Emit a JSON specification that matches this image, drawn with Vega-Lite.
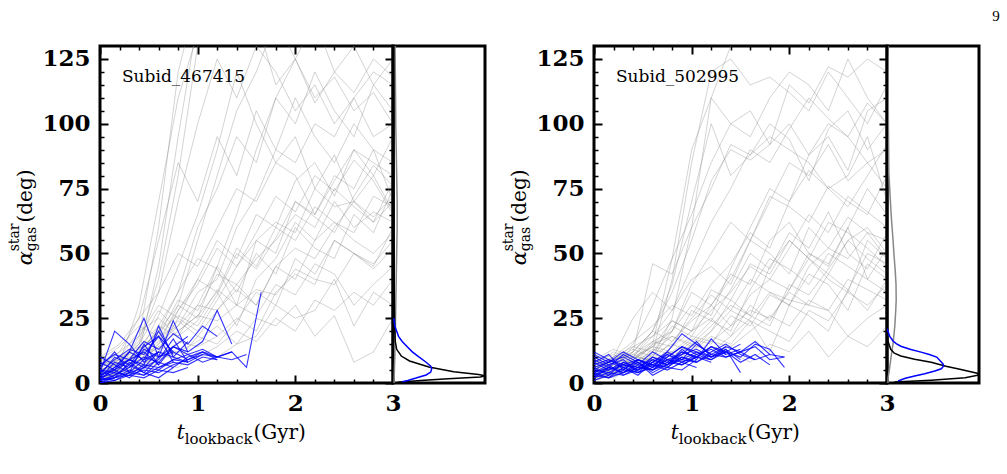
{
"$schema":"https://vega.github.io/schema/vega-lite/v6.json",
"padding":{"left":6,"top":7,"right":0,"bottom":0},
"config":{"view":{"stroke":"black","strokeWidth":3},"axis":{"domain":false,"grid":false,"tickColor":"black","labelFont":"DejaVu Serif","labelFontWeight":"bold","labelFontSize":23,"labelColor":"black","labelFlush":false,"labelOverlap":false}},
"datasets":{
"gA":[
{"k":1,"t":0,"v":3},{"k":1,"t":0.2,"v":6},{"k":1,"t":0.4,"v":12},{"k":1,"t":0.6,"v":45},{"k":1,"t":0.8,"v":95},{"k":1,"t":1,"v":140},{"k":1,"t":1.2,"v":150},{"k":1,"t":1.4,"v":145},{"k":1,"t":1.6,"v":150},{"k":1,"t":1.8,"v":140},{"k":1,"t":2,"v":125},{"k":1,"t":2.2,"v":110},{"k":1,"t":2.4,"v":118},{"k":1,"t":2.6,"v":105},{"k":1,"t":2.8,"v":112},{"k":1,"t":3,"v":100},
{"k":2,"t":0,"v":1},{"k":2,"t":0.2,"v":4},{"k":2,"t":0.4,"v":8},{"k":2,"t":0.6,"v":15},{"k":2,"t":0.8,"v":30},{"k":2,"t":1,"v":55},{"k":2,"t":1.2,"v":80},{"k":2,"t":1.4,"v":105},{"k":2,"t":1.6,"v":120},{"k":2,"t":1.8,"v":140},{"k":2,"t":2,"v":130},{"k":2,"t":2.2,"v":150},{"k":2,"t":2.4,"v":140},{"k":2,"t":2.6,"v":135},{"k":2,"t":2.8,"v":150},{"k":2,"t":3,"v":145},
{"k":3,"t":0,"v":5},{"k":3,"t":0.2,"v":8},{"k":3,"t":0.4,"v":10},{"k":3,"t":0.6,"v":18},{"k":3,"t":0.8,"v":22},{"k":3,"t":1,"v":35},{"k":3,"t":1.2,"v":40},{"k":3,"t":1.4,"v":60},{"k":3,"t":1.6,"v":72},{"k":3,"t":1.8,"v":90},{"k":3,"t":2,"v":85},{"k":3,"t":2.2,"v":100},{"k":3,"t":2.4,"v":95},{"k":3,"t":2.6,"v":110},{"k":3,"t":2.8,"v":120},{"k":3,"t":3,"v":115},
{"k":4,"t":0,"v":2},{"k":4,"t":0.2,"v":3},{"k":4,"t":0.4,"v":6},{"k":4,"t":0.6,"v":12},{"k":4,"t":0.8,"v":25},{"k":4,"t":1,"v":20},{"k":4,"t":1.2,"v":32},{"k":4,"t":1.4,"v":45},{"k":4,"t":1.6,"v":55},{"k":4,"t":1.8,"v":50},{"k":4,"t":2,"v":70},{"k":4,"t":2.2,"v":65},{"k":4,"t":2.4,"v":80},{"k":4,"t":2.6,"v":75},{"k":4,"t":2.8,"v":90},{"k":4,"t":3,"v":85},
{"k":5,"t":0,"v":4},{"k":5,"t":0.2,"v":10},{"k":5,"t":0.4,"v":14},{"k":5,"t":0.6,"v":22},{"k":5,"t":0.8,"v":35},{"k":5,"t":1,"v":48},{"k":5,"t":1.2,"v":44},{"k":5,"t":1.4,"v":30},{"k":5,"t":1.6,"v":55},{"k":5,"t":1.8,"v":62},{"k":5,"t":2,"v":58},{"k":5,"t":2.2,"v":75},{"k":5,"t":2.4,"v":68},{"k":5,"t":2.6,"v":70},{"k":5,"t":2.8,"v":64},{"k":5,"t":3,"v":72},
{"k":6,"t":0,"v":6},{"k":6,"t":0.2,"v":9},{"k":6,"t":0.4,"v":15},{"k":6,"t":0.6,"v":28},{"k":6,"t":0.8,"v":20},{"k":6,"t":1,"v":26},{"k":6,"t":1.2,"v":35},{"k":6,"t":1.4,"v":22},{"k":6,"t":1.6,"v":40},{"k":6,"t":1.8,"v":48},{"k":6,"t":2,"v":62},{"k":6,"t":2.2,"v":55},{"k":6,"t":2.4,"v":70},{"k":6,"t":2.6,"v":60},{"k":6,"t":2.8,"v":66},{"k":6,"t":3,"v":62},
{"k":7,"t":0,"v":1},{"k":7,"t":0.2,"v":5},{"k":7,"t":0.4,"v":7},{"k":7,"t":0.6,"v":10},{"k":7,"t":0.8,"v":16},{"k":7,"t":1,"v":14},{"k":7,"t":1.2,"v":18},{"k":7,"t":1.4,"v":25},{"k":7,"t":1.6,"v":20},{"k":7,"t":1.8,"v":35},{"k":7,"t":2,"v":42},{"k":7,"t":2.2,"v":38},{"k":7,"t":2.4,"v":55},{"k":7,"t":2.6,"v":50},{"k":7,"t":2.8,"v":45},{"k":7,"t":3,"v":60},
{"k":8,"t":0,"v":3},{"k":8,"t":0.2,"v":7},{"k":8,"t":0.4,"v":12},{"k":8,"t":0.6,"v":20},{"k":8,"t":0.8,"v":35},{"k":8,"t":1,"v":60},{"k":8,"t":1.2,"v":75},{"k":8,"t":1.4,"v":95},{"k":8,"t":1.6,"v":85},{"k":8,"t":1.8,"v":110},{"k":8,"t":2,"v":100},{"k":8,"t":2.2,"v":120},{"k":8,"t":2.4,"v":105},{"k":8,"t":2.6,"v":95},{"k":8,"t":2.8,"v":115},{"k":8,"t":3,"v":105},
{"k":9,"t":0,"v":8},{"k":9,"t":0.2,"v":12},{"k":9,"t":0.4,"v":18},{"k":9,"t":0.6,"v":30},{"k":9,"t":0.8,"v":25},{"k":9,"t":1,"v":40},{"k":9,"t":1.2,"v":55},{"k":9,"t":1.4,"v":48},{"k":9,"t":1.6,"v":65},{"k":9,"t":1.8,"v":60},{"k":9,"t":2,"v":78},{"k":9,"t":2.2,"v":85},{"k":9,"t":2.4,"v":72},{"k":9,"t":2.6,"v":90},{"k":9,"t":2.8,"v":80},{"k":9,"t":3,"v":95},
{"k":10,"t":0,"v":2},{"k":10,"t":0.2,"v":6},{"k":10,"t":0.4,"v":9},{"k":10,"t":0.6,"v":14},{"k":10,"t":0.8,"v":12},{"k":10,"t":1,"v":16},{"k":10,"t":1.2,"v":22},{"k":10,"t":1.4,"v":15},{"k":10,"t":1.6,"v":18},{"k":10,"t":1.8,"v":30},{"k":10,"t":2,"v":25},{"k":10,"t":2.2,"v":28},{"k":10,"t":2.4,"v":40},{"k":10,"t":2.6,"v":22},{"k":10,"t":2.8,"v":35},{"k":10,"t":3,"v":30},
{"k":11,"t":0,"v":5},{"k":11,"t":0.2,"v":4},{"k":11,"t":0.4,"v":10},{"k":11,"t":0.6,"v":16},{"k":11,"t":0.8,"v":24},{"k":11,"t":1,"v":18},{"k":11,"t":1.2,"v":28},{"k":11,"t":1.4,"v":36},{"k":11,"t":1.6,"v":30},{"k":11,"t":1.8,"v":45},{"k":11,"t":2,"v":40},{"k":11,"t":2.2,"v":55},{"k":11,"t":2.4,"v":62},{"k":11,"t":2.6,"v":58},{"k":11,"t":2.8,"v":72},{"k":11,"t":3,"v":68},
{"k":12,"t":0,"v":3},{"k":12,"t":0.2,"v":8},{"k":12,"t":0.4,"v":15},{"k":12,"t":0.6,"v":35},{"k":12,"t":0.8,"v":70},{"k":12,"t":1,"v":100},{"k":12,"t":1.2,"v":125},{"k":12,"t":1.4,"v":110},{"k":12,"t":1.6,"v":130},{"k":12,"t":1.8,"v":120},{"k":12,"t":2,"v":105},{"k":12,"t":2.2,"v":115},{"k":12,"t":2.4,"v":100},{"k":12,"t":2.6,"v":110},{"k":12,"t":2.8,"v":95},{"k":12,"t":3,"v":100},
{"k":13,"t":0,"v":7},{"k":13,"t":0.2,"v":10},{"k":13,"t":0.4,"v":20},{"k":13,"t":0.6,"v":25},{"k":13,"t":0.8,"v":18},{"k":13,"t":1,"v":30},{"k":13,"t":1.2,"v":45},{"k":13,"t":1.4,"v":35},{"k":13,"t":1.6,"v":50},{"k":13,"t":1.8,"v":42},{"k":13,"t":2,"v":60},{"k":13,"t":2.2,"v":52},{"k":13,"t":2.4,"v":48},{"k":13,"t":2.6,"v":65},{"k":13,"t":2.8,"v":58},{"k":13,"t":3,"v":75},
{"k":14,"t":0,"v":2},{"k":14,"t":0.2,"v":4},{"k":14,"t":0.4,"v":6},{"k":14,"t":0.6,"v":9},{"k":14,"t":0.8,"v":12},{"k":14,"t":1,"v":10},{"k":14,"t":1.2,"v":14},{"k":14,"t":1.4,"v":20},{"k":14,"t":1.6,"v":16},{"k":14,"t":1.8,"v":25},{"k":14,"t":2,"v":20},{"k":14,"t":2.2,"v":32},{"k":14,"t":2.4,"v":28},{"k":14,"t":2.6,"v":35},{"k":14,"t":2.8,"v":30},{"k":14,"t":3,"v":40},
{"k":15,"t":0,"v":4},{"k":15,"t":0.2,"v":9},{"k":15,"t":0.4,"v":16},{"k":15,"t":0.6,"v":40},{"k":15,"t":0.8,"v":80},{"k":15,"t":1,"v":130},{"k":15,"t":1.2,"v":150},{"k":15,"t":1.4,"v":150},{"k":15,"t":1.6,"v":140},{"k":15,"t":1.8,"v":115},{"k":15,"t":2,"v":125},{"k":15,"t":2.2,"v":108},{"k":15,"t":2.4,"v":120},{"k":15,"t":2.6,"v":112},{"k":15,"t":2.8,"v":125},{"k":15,"t":3,"v":118},
{"k":16,"t":0,"v":6},{"k":16,"t":0.2,"v":12},{"k":16,"t":0.4,"v":25},{"k":16,"t":0.6,"v":55},{"k":16,"t":0.8,"v":85},{"k":16,"t":1,"v":70},{"k":16,"t":1.2,"v":95},{"k":16,"t":1.4,"v":80},{"k":16,"t":1.6,"v":105},{"k":16,"t":1.8,"v":90},{"k":16,"t":2,"v":110},{"k":16,"t":2.2,"v":95},{"k":16,"t":2.4,"v":85},{"k":16,"t":2.6,"v":100},{"k":16,"t":2.8,"v":90},{"k":16,"t":3,"v":70},
{"k":17,"t":0,"v":3},{"k":17,"t":0.2,"v":5},{"k":17,"t":0.4,"v":14},{"k":17,"t":0.6,"v":12},{"k":17,"t":0.8,"v":28},{"k":17,"t":1,"v":40},{"k":17,"t":1.2,"v":35},{"k":17,"t":1.4,"v":52},{"k":17,"t":1.6,"v":45},{"k":17,"t":1.8,"v":60},{"k":17,"t":2,"v":55},{"k":17,"t":2.2,"v":68},{"k":17,"t":2.4,"v":62},{"k":17,"t":2.6,"v":55},{"k":17,"t":2.8,"v":50},{"k":17,"t":3,"v":58},
{"k":18,"t":0,"v":9},{"k":18,"t":0.2,"v":14},{"k":18,"t":0.4,"v":22},{"k":18,"t":0.6,"v":18},{"k":18,"t":0.8,"v":32},{"k":18,"t":1,"v":28},{"k":18,"t":1.2,"v":42},{"k":18,"t":1.4,"v":38},{"k":18,"t":1.6,"v":30},{"k":18,"t":1.8,"v":45},{"k":18,"t":2,"v":52},{"k":18,"t":2.2,"v":48},{"k":18,"t":2.4,"v":60},{"k":18,"t":2.6,"v":70},{"k":18,"t":2.8,"v":62},{"k":18,"t":3,"v":78},
{"k":19,"t":0,"v":1},{"k":19,"t":0.2,"v":3},{"k":19,"t":0.4,"v":5},{"k":19,"t":0.6,"v":8},{"k":19,"t":0.8,"v":6},{"k":19,"t":1,"v":12},{"k":19,"t":1.2,"v":10},{"k":19,"t":1.4,"v":15},{"k":19,"t":1.6,"v":25},{"k":19,"t":1.8,"v":22},{"k":19,"t":2,"v":30},{"k":19,"t":2.2,"v":18},{"k":19,"t":2.4,"v":26},{"k":19,"t":2.6,"v":8},{"k":19,"t":2.8,"v":12},{"k":19,"t":3,"v":25},
{"k":20,"t":0,"v":5},{"k":20,"t":0.2,"v":7},{"k":20,"t":0.4,"v":11},{"k":20,"t":0.6,"v":26},{"k":20,"t":0.8,"v":45},{"k":20,"t":1,"v":65},{"k":20,"t":1.2,"v":90},{"k":20,"t":1.4,"v":120},{"k":20,"t":1.6,"v":100},{"k":20,"t":1.8,"v":85},{"k":20,"t":2,"v":95},{"k":20,"t":2.2,"v":75},{"k":20,"t":2.4,"v":88},{"k":20,"t":2.6,"v":70},{"k":20,"t":2.8,"v":80},{"k":20,"t":3,"v":66},
{"k":21,"t":0,"v":2},{"k":21,"t":0.2,"v":5},{"k":21,"t":0.4,"v":18},{"k":21,"t":0.6,"v":60},{"k":21,"t":0.8,"v":120},{"k":21,"t":1,"v":150},{"k":21,"t":1.2,"v":140},{"k":21,"t":1.4,"v":130},{"k":21,"t":1.6,"v":150},{"k":21,"t":1.8,"v":145},{"k":21,"t":2,"v":135},{"k":21,"t":2.2,"v":150},{"k":21,"t":2.4,"v":140},{"k":21,"t":2.6,"v":150},{"k":21,"t":2.8,"v":130},{"k":21,"t":3,"v":150},
{"k":22,"t":0,"v":4},{"k":22,"t":0.2,"v":8},{"k":22,"t":0.4,"v":12},{"k":22,"t":0.6,"v":20},{"k":22,"t":0.8,"v":30},{"k":22,"t":1,"v":25},{"k":22,"t":1.2,"v":45},{"k":22,"t":1.4,"v":65},{"k":22,"t":1.6,"v":90},{"k":22,"t":1.8,"v":110},{"k":22,"t":2,"v":125},{"k":22,"t":2.2,"v":140},{"k":22,"t":2.4,"v":120},{"k":22,"t":2.6,"v":130},{"k":22,"t":2.8,"v":115},{"k":22,"t":3,"v":125},
{"k":23,"t":0,"v":3},{"k":23,"t":0.2,"v":6},{"k":23,"t":0.4,"v":9},{"k":23,"t":0.6,"v":15},{"k":23,"t":0.8,"v":22},{"k":23,"t":1,"v":30},{"k":23,"t":1.2,"v":28},{"k":23,"t":1.4,"v":38},{"k":23,"t":1.6,"v":48},{"k":23,"t":1.8,"v":55},{"k":23,"t":2,"v":65},{"k":23,"t":2.2,"v":60},{"k":23,"t":2.4,"v":75},{"k":23,"t":2.6,"v":68},{"k":23,"t":2.8,"v":62},{"k":23,"t":3,"v":70},
{"k":24,"t":0,"v":6},{"k":24,"t":0.2,"v":10},{"k":24,"t":0.4,"v":8},{"k":24,"t":0.6,"v":14},{"k":24,"t":0.8,"v":20},{"k":24,"t":1,"v":26},{"k":24,"t":1.2,"v":24},{"k":24,"t":1.4,"v":30},{"k":24,"t":1.6,"v":36},{"k":24,"t":1.8,"v":34},{"k":24,"t":2,"v":44},{"k":24,"t":2.2,"v":40},{"k":24,"t":2.4,"v":38},{"k":24,"t":2.6,"v":50},{"k":24,"t":2.8,"v":46},{"k":24,"t":3,"v":55},
{"k":25,"t":0,"v":10},{"k":25,"t":0.2,"v":15},{"k":25,"t":0.4,"v":25},{"k":25,"t":0.6,"v":35},{"k":25,"t":0.8,"v":50},{"k":25,"t":1,"v":45},{"k":25,"t":1.2,"v":60},{"k":25,"t":1.4,"v":75},{"k":25,"t":1.6,"v":70},{"k":25,"t":1.8,"v":85},{"k":25,"t":2,"v":80},{"k":25,"t":2.2,"v":65},{"k":25,"t":2.4,"v":78},{"k":25,"t":2.6,"v":90},{"k":25,"t":2.8,"v":85},{"k":25,"t":3,"v":80},
{"k":26,"t":0,"v":2},{"k":26,"t":0.2,"v":4},{"k":26,"t":0.4,"v":10},{"k":26,"t":0.6,"v":22},{"k":26,"t":0.8,"v":18},{"k":26,"t":1,"v":24},{"k":26,"t":1.2,"v":36},{"k":26,"t":1.4,"v":30},{"k":26,"t":1.6,"v":26},{"k":26,"t":1.8,"v":38},{"k":26,"t":2,"v":34},{"k":26,"t":2.2,"v":46},{"k":26,"t":2.4,"v":42},{"k":26,"t":2.6,"v":30},{"k":26,"t":2.8,"v":38},{"k":26,"t":3,"v":45},
{"k":27,"t":0,"v":5},{"k":27,"t":0.2,"v":8},{"k":27,"t":0.4,"v":30},{"k":27,"t":0.6,"v":70},{"k":27,"t":0.8,"v":110},{"k":27,"t":1,"v":135},{"k":27,"t":1.2,"v":150},{"k":27,"t":1.4,"v":140},{"k":27,"t":1.6,"v":150},{"k":27,"t":1.8,"v":150},{"k":27,"t":2,"v":150},{"k":27,"t":2.2,"v":150},{"k":27,"t":2.4,"v":140},{"k":27,"t":2.6,"v":150},{"k":27,"t":2.8,"v":150},{"k":27,"t":3,"v":150},
{"k":28,"t":0,"v":3},{"k":28,"t":0.2,"v":6},{"k":28,"t":0.4,"v":11},{"k":28,"t":0.6,"v":17},{"k":28,"t":0.8,"v":28},{"k":28,"t":1,"v":38},{"k":28,"t":1.2,"v":52},{"k":28,"t":1.4,"v":45},{"k":28,"t":1.6,"v":58},{"k":28,"t":1.8,"v":72},{"k":28,"t":2,"v":66},{"k":28,"t":2.2,"v":80},{"k":28,"t":2.4,"v":74},{"k":28,"t":2.6,"v":86},{"k":28,"t":2.8,"v":78},{"k":28,"t":3,"v":65},
{"k":29,"t":0,"v":7},{"k":29,"t":0.2,"v":9},{"k":29,"t":0.4,"v":13},{"k":29,"t":0.6,"v":20},{"k":29,"t":0.8,"v":26},{"k":29,"t":1,"v":22},{"k":29,"t":1.2,"v":34},{"k":29,"t":1.4,"v":50},{"k":29,"t":1.6,"v":44},{"k":29,"t":1.8,"v":56},{"k":29,"t":2,"v":70},{"k":29,"t":2.2,"v":64},{"k":29,"t":2.4,"v":58},{"k":29,"t":2.6,"v":72},{"k":29,"t":2.8,"v":84},{"k":29,"t":3,"v":76},
{"k":30,"t":0,"v":1},{"k":30,"t":0.2,"v":4},{"k":30,"t":0.4,"v":6},{"k":30,"t":0.6,"v":11},{"k":30,"t":0.8,"v":9},{"k":30,"t":1,"v":18},{"k":30,"t":1.2,"v":15},{"k":30,"t":1.4,"v":24},{"k":30,"t":1.6,"v":35},{"k":30,"t":1.8,"v":30},{"k":30,"t":2,"v":48},{"k":30,"t":2.2,"v":42},{"k":30,"t":2.4,"v":55},{"k":30,"t":2.6,"v":50},{"k":30,"t":2.8,"v":44},{"k":30,"t":3,"v":52}
],
"bA":[
{"k":1,"t":0,"v":2},{"k":1,"t":0.15,"v":5},{"k":1,"t":0.3,"v":9},{"k":1,"t":0.45,"v":6},{"k":1,"t":0.6,"v":12},
{"k":2,"t":0,"v":1},{"k":2,"t":0.15,"v":6},{"k":2,"t":0.3,"v":12},{"k":2,"t":0.45,"v":25},{"k":2,"t":0.6,"v":10},{"k":2,"t":0.75,"v":14},{"k":2,"t":0.9,"v":18},
{"k":3,"t":0,"v":4},{"k":3,"t":0.15,"v":20},{"k":3,"t":0.3,"v":15},{"k":3,"t":0.45,"v":8},{"k":3,"t":0.6,"v":12},
{"k":4,"t":0,"v":0},{"k":4,"t":0.15,"v":3},{"k":4,"t":0.3,"v":6},{"k":4,"t":0.45,"v":10},{"k":4,"t":0.6,"v":8},{"k":4,"t":0.75,"v":14},{"k":4,"t":0.9,"v":12},{"k":4,"t":1.05,"v":16},{"k":4,"t":1.2,"v":28},{"k":4,"t":1.35,"v":15},
{"k":5,"t":0,"v":5},{"k":5,"t":0.15,"v":2},{"k":5,"t":0.3,"v":8},{"k":5,"t":0.45,"v":4},{"k":5,"t":0.6,"v":10},{"k":5,"t":0.75,"v":12},{"k":5,"t":0.9,"v":9},{"k":5,"t":1.05,"v":11},
{"k":6,"t":0,"v":3},{"k":6,"t":0.15,"v":10},{"k":6,"t":0.3,"v":7},{"k":6,"t":0.45,"v":14},{"k":6,"t":0.6,"v":18},{"k":6,"t":0.75,"v":12},
{"k":7,"t":0,"v":2},{"k":7,"t":0.15,"v":4},{"k":7,"t":0.3,"v":3},{"k":7,"t":0.45,"v":7},{"k":7,"t":0.6,"v":6},{"k":7,"t":0.75,"v":9},{"k":7,"t":0.9,"v":11},{"k":7,"t":1.05,"v":8},{"k":7,"t":1.2,"v":10},{"k":7,"t":1.35,"v":12},{"k":7,"t":1.5,"v":6},{"k":7,"t":1.65,"v":35},
{"k":8,"t":0,"v":8},{"k":8,"t":0.15,"v":5},{"k":8,"t":0.3,"v":12},{"k":8,"t":0.45,"v":9},{"k":8,"t":0.6,"v":20},{"k":8,"t":0.75,"v":11},
{"k":9,"t":0,"v":1},{"k":9,"t":0.15,"v":2},{"k":9,"t":0.3,"v":5},{"k":9,"t":0.45,"v":3},{"k":9,"t":0.6,"v":8},{"k":9,"t":0.75,"v":6},{"k":9,"t":0.9,"v":10},{"k":9,"t":1.05,"v":12},{"k":9,"t":1.2,"v":9},
{"k":10,"t":0,"v":6},{"k":10,"t":0.15,"v":12},{"k":10,"t":0.3,"v":4},{"k":10,"t":0.45,"v":15},{"k":10,"t":0.6,"v":7},
{"k":11,"t":0,"v":3},{"k":11,"t":0.15,"v":6},{"k":11,"t":0.3,"v":9},{"k":11,"t":0.45,"v":7},{"k":11,"t":0.6,"v":22},{"k":11,"t":0.75,"v":10},{"k":11,"t":0.9,"v":8},
{"k":12,"t":0,"v":2},{"k":12,"t":0.15,"v":1},{"k":12,"t":0.3,"v":4},{"k":12,"t":0.45,"v":6},{"k":12,"t":0.6,"v":5},{"k":12,"t":0.75,"v":9},{"k":12,"t":0.9,"v":8},{"k":12,"t":1.05,"v":11},{"k":12,"t":1.2,"v":10},{"k":12,"t":1.35,"v":9},{"k":12,"t":1.5,"v":11},
{"k":13,"t":0,"v":10},{"k":13,"t":0.15,"v":7},{"k":13,"t":0.3,"v":4},{"k":13,"t":0.45,"v":9},{"k":13,"t":0.6,"v":12},{"k":13,"t":0.75,"v":10},{"k":13,"t":0.9,"v":16},
{"k":14,"t":0,"v":0},{"k":14,"t":0.15,"v":2},{"k":14,"t":0.3,"v":3},{"k":14,"t":0.45,"v":5},{"k":14,"t":0.6,"v":4},{"k":14,"t":0.75,"v":7},{"k":14,"t":0.9,"v":9},{"k":14,"t":1.05,"v":12},{"k":14,"t":1.2,"v":10},
{"k":15,"t":0,"v":4},{"k":15,"t":0.15,"v":9},{"k":15,"t":0.3,"v":13},{"k":15,"t":0.45,"v":11},{"k":15,"t":0.6,"v":18},{"k":15,"t":0.75,"v":8},
{"k":16,"t":0,"v":1},{"k":16,"t":0.15,"v":3},{"k":16,"t":0.3,"v":7},{"k":16,"t":0.45,"v":4},{"k":16,"t":0.6,"v":2},{"k":16,"t":0.75,"v":6},
{"k":17,"t":0,"v":2},{"k":17,"t":0.15,"v":8},{"k":17,"t":0.3,"v":6},{"k":17,"t":0.45,"v":13},{"k":17,"t":0.6,"v":10},{"k":17,"t":0.75,"v":24},{"k":17,"t":0.9,"v":12},
{"k":18,"t":0,"v":5},{"k":18,"t":0.15,"v":4},{"k":18,"t":0.3,"v":9},{"k":18,"t":0.45,"v":12},{"k":18,"t":0.6,"v":7},{"k":18,"t":0.75,"v":14},{"k":18,"t":0.9,"v":11},{"k":18,"t":1.05,"v":13},{"k":18,"t":1.2,"v":10},{"k":18,"t":1.35,"v":12},
{"k":19,"t":0,"v":3},{"k":19,"t":0.15,"v":5},{"k":19,"t":0.3,"v":2},{"k":19,"t":0.45,"v":6},{"k":19,"t":0.6,"v":9},{"k":19,"t":0.75,"v":17},{"k":19,"t":0.9,"v":8},
{"k":20,"t":0,"v":1},{"k":20,"t":0.15,"v":2},{"k":20,"t":0.3,"v":4},{"k":20,"t":0.45,"v":3},{"k":20,"t":0.6,"v":6},{"k":20,"t":0.75,"v":8},{"k":20,"t":0.9,"v":7},{"k":20,"t":1.05,"v":10},{"k":20,"t":1.2,"v":9},
{"k":21,"t":0,"v":7},{"k":21,"t":0.15,"v":11},{"k":21,"t":0.3,"v":9},{"k":21,"t":0.45,"v":16},{"k":21,"t":0.6,"v":13},{"k":21,"t":0.75,"v":19},{"k":21,"t":0.9,"v":15},{"k":21,"t":1.05,"v":22},{"k":21,"t":1.2,"v":18},
{"k":22,"t":0,"v":0},{"k":22,"t":0.15,"v":1},{"k":22,"t":0.3,"v":3},{"k":22,"t":0.45,"v":2},{"k":22,"t":0.6,"v":5},{"k":22,"t":0.75,"v":4},{"k":22,"t":0.9,"v":6}
],
"gB":[
{"k":1,"t":0,"v":3},{"k":1,"t":0.2,"v":8},{"k":1,"t":0.4,"v":15},{"k":1,"t":0.6,"v":30},{"k":1,"t":0.8,"v":48},{"k":1,"t":1,"v":65},{"k":1,"t":1.2,"v":85},{"k":1,"t":1.4,"v":100},{"k":1,"t":1.6,"v":95},{"k":1,"t":1.8,"v":110},{"k":1,"t":2,"v":120},{"k":1,"t":2.2,"v":115},{"k":1,"t":2.4,"v":105},{"k":1,"t":2.6,"v":125},{"k":1,"t":2.8,"v":110},{"k":1,"t":3,"v":100},
{"k":2,"t":0,"v":5},{"k":2,"t":0.2,"v":10},{"k":2,"t":0.4,"v":25},{"k":2,"t":0.6,"v":35},{"k":2,"t":0.8,"v":28},{"k":2,"t":1,"v":40},{"k":2,"t":1.2,"v":45},{"k":2,"t":1.4,"v":38},{"k":2,"t":1.6,"v":55},{"k":2,"t":1.8,"v":50},{"k":2,"t":2,"v":42},{"k":2,"t":2.2,"v":60},{"k":2,"t":2.4,"v":52},{"k":2,"t":2.6,"v":48},{"k":2,"t":2.8,"v":58},{"k":2,"t":3,"v":55},
{"k":3,"t":0,"v":2},{"k":3,"t":0.2,"v":6},{"k":3,"t":0.4,"v":12},{"k":3,"t":0.6,"v":20},{"k":3,"t":0.8,"v":38},{"k":3,"t":1,"v":70},{"k":3,"t":1.2,"v":100},{"k":3,"t":1.4,"v":80},{"k":3,"t":1.6,"v":88},{"k":3,"t":1.8,"v":95},{"k":3,"t":2,"v":90},{"k":3,"t":2.2,"v":85},{"k":3,"t":2.4,"v":75},{"k":3,"t":2.6,"v":80},{"k":3,"t":2.8,"v":95},{"k":3,"t":3,"v":70},
{"k":4,"t":0,"v":8},{"k":4,"t":0.2,"v":6},{"k":4,"t":0.4,"v":10},{"k":4,"t":0.6,"v":14},{"k":4,"t":0.8,"v":12},{"k":4,"t":1,"v":18},{"k":4,"t":1.2,"v":16},{"k":4,"t":1.4,"v":22},{"k":4,"t":1.6,"v":28},{"k":4,"t":1.8,"v":25},{"k":4,"t":2,"v":35},{"k":4,"t":2.2,"v":30},{"k":4,"t":2.4,"v":28},{"k":4,"t":2.6,"v":40},{"k":4,"t":2.8,"v":36},{"k":4,"t":3,"v":32},
{"k":5,"t":0,"v":4},{"k":5,"t":0.2,"v":7},{"k":5,"t":0.4,"v":12},{"k":5,"t":0.6,"v":46},{"k":5,"t":0.8,"v":42},{"k":5,"t":1,"v":60},{"k":5,"t":1.2,"v":75},{"k":5,"t":1.4,"v":92},{"k":5,"t":1.6,"v":88},{"k":5,"t":1.8,"v":100},{"k":5,"t":2,"v":94},{"k":5,"t":2.2,"v":78},{"k":5,"t":2.4,"v":98},{"k":5,"t":2.6,"v":105},{"k":5,"t":2.8,"v":90},{"k":5,"t":3,"v":100},
{"k":6,"t":0,"v":1},{"k":6,"t":0.2,"v":5},{"k":6,"t":0.4,"v":8},{"k":6,"t":0.6,"v":12},{"k":6,"t":0.8,"v":18},{"k":6,"t":1,"v":15},{"k":6,"t":1.2,"v":22},{"k":6,"t":1.4,"v":30},{"k":6,"t":1.6,"v":26},{"k":6,"t":1.8,"v":45},{"k":6,"t":2,"v":55},{"k":6,"t":2.2,"v":48},{"k":6,"t":2.4,"v":62},{"k":6,"t":2.6,"v":58},{"k":6,"t":2.8,"v":52},{"k":6,"t":3,"v":45},
{"k":7,"t":0,"v":6},{"k":7,"t":0.2,"v":9},{"k":7,"t":0.4,"v":11},{"k":7,"t":0.6,"v":8},{"k":7,"t":0.8,"v":14},{"k":7,"t":1,"v":20},{"k":7,"t":1.2,"v":25},{"k":7,"t":1.4,"v":18},{"k":7,"t":1.6,"v":30},{"k":7,"t":1.8,"v":24},{"k":7,"t":2,"v":36},{"k":7,"t":2.2,"v":48},{"k":7,"t":2.4,"v":40},{"k":7,"t":2.6,"v":35},{"k":7,"t":2.8,"v":55},{"k":7,"t":3,"v":48},
{"k":8,"t":0,"v":3},{"k":8,"t":0.2,"v":4},{"k":8,"t":0.4,"v":7},{"k":8,"t":0.6,"v":10},{"k":8,"t":0.8,"v":25},{"k":8,"t":1,"v":60},{"k":8,"t":1.2,"v":110},{"k":8,"t":1.4,"v":130},{"k":8,"t":1.6,"v":140},{"k":8,"t":1.8,"v":145},{"k":8,"t":2,"v":130},{"k":8,"t":2.2,"v":140},{"k":8,"t":2.4,"v":135},{"k":8,"t":2.6,"v":150},{"k":8,"t":2.8,"v":130},{"k":8,"t":3,"v":140},
{"k":9,"t":0,"v":7},{"k":9,"t":0.2,"v":12},{"k":9,"t":0.4,"v":9},{"k":9,"t":0.6,"v":16},{"k":9,"t":0.8,"v":20},{"k":9,"t":1,"v":35},{"k":9,"t":1.2,"v":30},{"k":9,"t":1.4,"v":42},{"k":9,"t":1.6,"v":38},{"k":9,"t":1.8,"v":55},{"k":9,"t":2,"v":62},{"k":9,"t":2.2,"v":50},{"k":9,"t":2.4,"v":45},{"k":9,"t":2.6,"v":60},{"k":9,"t":2.8,"v":75},{"k":9,"t":3,"v":65},
{"k":10,"t":0,"v":2},{"k":10,"t":0.2,"v":3},{"k":10,"t":0.4,"v":5},{"k":10,"t":0.6,"v":7},{"k":10,"t":0.8,"v":6},{"k":10,"t":1,"v":10},{"k":10,"t":1.2,"v":14},{"k":10,"t":1.4,"v":12},{"k":10,"t":1.6,"v":8},{"k":10,"t":1.8,"v":15},{"k":10,"t":2,"v":12},{"k":10,"t":2.2,"v":20},{"k":10,"t":2.4,"v":10},{"k":10,"t":2.6,"v":18},{"k":10,"t":2.8,"v":14},{"k":10,"t":3,"v":22},
{"k":11,"t":0,"v":9},{"k":11,"t":0.2,"v":6},{"k":11,"t":0.4,"v":14},{"k":11,"t":0.6,"v":18},{"k":11,"t":0.8,"v":24},{"k":11,"t":1,"v":20},{"k":11,"t":1.2,"v":28},{"k":11,"t":1.4,"v":35},{"k":11,"t":1.6,"v":45},{"k":11,"t":1.8,"v":40},{"k":11,"t":2,"v":52},{"k":11,"t":2.2,"v":65},{"k":11,"t":2.4,"v":58},{"k":11,"t":2.6,"v":72},{"k":11,"t":2.8,"v":66},{"k":11,"t":3,"v":60},
{"k":12,"t":0,"v":4},{"k":12,"t":0.2,"v":8},{"k":12,"t":0.4,"v":6},{"k":12,"t":0.6,"v":12},{"k":12,"t":0.8,"v":40},{"k":12,"t":1,"v":85},{"k":12,"t":1.2,"v":120},{"k":12,"t":1.4,"v":125},{"k":12,"t":1.6,"v":115},{"k":12,"t":1.8,"v":118},{"k":12,"t":2,"v":112},{"k":12,"t":2.2,"v":105},{"k":12,"t":2.4,"v":120},{"k":12,"t":2.6,"v":110},{"k":12,"t":2.8,"v":100},{"k":12,"t":3,"v":115},
{"k":13,"t":0,"v":5},{"k":13,"t":0.2,"v":10},{"k":13,"t":0.4,"v":16},{"k":13,"t":0.6,"v":22},{"k":13,"t":0.8,"v":30},{"k":13,"t":1,"v":26},{"k":13,"t":1.2,"v":38},{"k":13,"t":1.4,"v":46},{"k":13,"t":1.6,"v":58},{"k":13,"t":1.8,"v":52},{"k":13,"t":2,"v":70},{"k":13,"t":2.2,"v":82},{"k":13,"t":2.4,"v":75},{"k":13,"t":2.6,"v":68},{"k":13,"t":2.8,"v":80},{"k":13,"t":3,"v":92},
{"k":14,"t":0,"v":3},{"k":14,"t":0.2,"v":5},{"k":14,"t":0.4,"v":8},{"k":14,"t":0.6,"v":6},{"k":14,"t":0.8,"v":10},{"k":14,"t":1,"v":16},{"k":14,"t":1.2,"v":24},{"k":14,"t":1.4,"v":20},{"k":14,"t":1.6,"v":36},{"k":14,"t":1.8,"v":48},{"k":14,"t":2,"v":44},{"k":14,"t":2.2,"v":38},{"k":14,"t":2.4,"v":50},{"k":14,"t":2.6,"v":45},{"k":14,"t":2.8,"v":40},{"k":14,"t":3,"v":52},
{"k":15,"t":0,"v":1},{"k":15,"t":0.2,"v":4},{"k":15,"t":0.4,"v":7},{"k":15,"t":0.6,"v":13},{"k":15,"t":0.8,"v":11},{"k":15,"t":1,"v":17},{"k":15,"t":1.2,"v":15},{"k":15,"t":1.4,"v":26},{"k":15,"t":1.6,"v":22},{"k":15,"t":1.8,"v":34},{"k":15,"t":2,"v":30},{"k":15,"t":2.2,"v":42},{"k":15,"t":2.4,"v":38},{"k":15,"t":2.6,"v":28},{"k":15,"t":2.8,"v":46},{"k":15,"t":3,"v":40},
{"k":16,"t":0,"v":6},{"k":16,"t":0.2,"v":9},{"k":16,"t":0.4,"v":12},{"k":16,"t":0.6,"v":20},{"k":16,"t":0.8,"v":35},{"k":16,"t":1,"v":55},{"k":16,"t":1.2,"v":78},{"k":16,"t":1.4,"v":90},{"k":16,"t":1.6,"v":86},{"k":16,"t":1.8,"v":92},{"k":16,"t":2,"v":100},{"k":16,"t":2.2,"v":88},{"k":16,"t":2.4,"v":95},{"k":16,"t":2.6,"v":82},{"k":16,"t":2.8,"v":105},{"k":16,"t":3,"v":110},
{"k":17,"t":0,"v":2},{"k":17,"t":0.2,"v":7},{"k":17,"t":0.4,"v":10},{"k":17,"t":0.6,"v":9},{"k":17,"t":0.8,"v":16},{"k":17,"t":1,"v":25},{"k":17,"t":1.2,"v":34},{"k":17,"t":1.4,"v":28},{"k":17,"t":1.6,"v":40},{"k":17,"t":1.8,"v":35},{"k":17,"t":2,"v":30},{"k":17,"t":2.2,"v":45},{"k":17,"t":2.4,"v":52},{"k":17,"t":2.6,"v":64},{"k":17,"t":2.8,"v":58},{"k":17,"t":3,"v":48},
{"k":18,"t":0,"v":8},{"k":18,"t":0.2,"v":11},{"k":18,"t":0.4,"v":7},{"k":18,"t":0.6,"v":15},{"k":18,"t":0.8,"v":18},{"k":18,"t":1,"v":14},{"k":18,"t":1.2,"v":20},{"k":18,"t":1.4,"v":32},{"k":18,"t":1.6,"v":26},{"k":18,"t":1.8,"v":22},{"k":18,"t":2,"v":38},{"k":18,"t":2.2,"v":34},{"k":18,"t":2.4,"v":44},{"k":18,"t":2.6,"v":55},{"k":18,"t":2.8,"v":48},{"k":18,"t":3,"v":42},
{"k":19,"t":0,"v":4},{"k":19,"t":0.2,"v":6},{"k":19,"t":0.4,"v":9},{"k":19,"t":0.6,"v":15},{"k":19,"t":0.8,"v":48},{"k":19,"t":1,"v":90},{"k":19,"t":1.2,"v":110},{"k":19,"t":1.4,"v":100},{"k":19,"t":1.6,"v":105},{"k":19,"t":1.8,"v":92},{"k":19,"t":2,"v":115},{"k":19,"t":2.2,"v":108},{"k":19,"t":2.4,"v":122},{"k":19,"t":2.6,"v":118},{"k":19,"t":2.8,"v":125},{"k":19,"t":3,"v":120},
{"k":20,"t":0,"v":3},{"k":20,"t":0.2,"v":2},{"k":20,"t":0.4,"v":6},{"k":20,"t":0.6,"v":10},{"k":20,"t":0.8,"v":8},{"k":20,"t":1,"v":12},{"k":20,"t":1.2,"v":18},{"k":20,"t":1.4,"v":15},{"k":20,"t":1.6,"v":24},{"k":20,"t":1.8,"v":20},{"k":20,"t":2,"v":16},{"k":20,"t":2.2,"v":28},{"k":20,"t":2.4,"v":24},{"k":20,"t":2.6,"v":35},{"k":20,"t":2.8,"v":30},{"k":20,"t":3,"v":38},
{"k":21,"t":0,"v":7},{"k":21,"t":0.2,"v":10},{"k":21,"t":0.4,"v":14},{"k":21,"t":0.6,"v":12},{"k":21,"t":0.8,"v":22},{"k":21,"t":1,"v":18},{"k":21,"t":1.2,"v":30},{"k":21,"t":1.4,"v":40},{"k":21,"t":1.6,"v":55},{"k":21,"t":1.8,"v":70},{"k":21,"t":2,"v":85},{"k":21,"t":2.2,"v":80},{"k":21,"t":2.4,"v":92},{"k":21,"t":2.6,"v":78},{"k":21,"t":2.8,"v":85},{"k":21,"t":3,"v":75},
{"k":22,"t":0,"v":5},{"k":22,"t":0.2,"v":8},{"k":22,"t":0.4,"v":11},{"k":22,"t":0.6,"v":16},{"k":22,"t":0.8,"v":14},{"k":22,"t":1,"v":28},{"k":22,"t":1.2,"v":24},{"k":22,"t":1.4,"v":36},{"k":22,"t":1.6,"v":50},{"k":22,"t":1.8,"v":44},{"k":22,"t":2,"v":58},{"k":22,"t":2.2,"v":52},{"k":22,"t":2.4,"v":66},{"k":22,"t":2.6,"v":50},{"k":22,"t":2.8,"v":44},{"k":22,"t":3,"v":58},
{"k":23,"t":0,"v":1},{"k":23,"t":0.2,"v":3},{"k":23,"t":0.4,"v":6},{"k":23,"t":0.6,"v":9},{"k":23,"t":0.8,"v":12},{"k":23,"t":1,"v":10},{"k":23,"t":1.2,"v":16},{"k":23,"t":1.4,"v":14},{"k":23,"t":1.6,"v":20},{"k":23,"t":1.8,"v":26},{"k":23,"t":2,"v":22},{"k":23,"t":2.2,"v":32},{"k":23,"t":2.4,"v":28},{"k":23,"t":2.6,"v":18},{"k":23,"t":2.8,"v":25},{"k":23,"t":3,"v":30},
{"k":24,"t":0,"v":6},{"k":24,"t":0.2,"v":4},{"k":24,"t":0.4,"v":9},{"k":24,"t":0.6,"v":14},{"k":24,"t":0.8,"v":20},{"k":24,"t":1,"v":38},{"k":24,"t":1.2,"v":50},{"k":24,"t":1.4,"v":62},{"k":24,"t":1.6,"v":55},{"k":24,"t":1.8,"v":72},{"k":24,"t":2,"v":68},{"k":24,"t":2.2,"v":62},{"k":24,"t":2.4,"v":76},{"k":24,"t":2.6,"v":70},{"k":24,"t":2.8,"v":65},{"k":24,"t":3,"v":80},
{"k":25,"t":0,"v":2},{"k":25,"t":0.2,"v":5},{"k":25,"t":0.4,"v":10},{"k":25,"t":0.6,"v":18},{"k":25,"t":0.8,"v":28},{"k":25,"t":1,"v":45},{"k":25,"t":1.2,"v":62},{"k":25,"t":1.4,"v":75},{"k":25,"t":1.6,"v":90},{"k":25,"t":1.8,"v":85},{"k":25,"t":2,"v":98},{"k":25,"t":2.2,"v":110},{"k":25,"t":2.4,"v":102},{"k":25,"t":2.6,"v":95},{"k":25,"t":2.8,"v":108},{"k":25,"t":3,"v":100},
{"k":26,"t":0,"v":9},{"k":26,"t":0.2,"v":13},{"k":26,"t":0.4,"v":10},{"k":26,"t":0.6,"v":20},{"k":26,"t":0.8,"v":16},{"k":26,"t":1,"v":24},{"k":26,"t":1.2,"v":30},{"k":26,"t":1.4,"v":22},{"k":26,"t":1.6,"v":34},{"k":26,"t":1.8,"v":40},{"k":26,"t":2,"v":36},{"k":26,"t":2.2,"v":50},{"k":26,"t":2.4,"v":46},{"k":26,"t":2.6,"v":60},{"k":26,"t":2.8,"v":40},{"k":26,"t":3,"v":35},
{"k":27,"t":0,"v":4},{"k":27,"t":0.2,"v":7},{"k":27,"t":0.4,"v":5},{"k":27,"t":0.6,"v":11},{"k":27,"t":0.8,"v":15},{"k":27,"t":1,"v":12},{"k":27,"t":1.2,"v":20},{"k":27,"t":1.4,"v":28},{"k":27,"t":1.6,"v":24},{"k":27,"t":1.8,"v":12},{"k":27,"t":2,"v":30},{"k":27,"t":2.2,"v":26},{"k":27,"t":2.4,"v":20},{"k":27,"t":2.6,"v":36},{"k":27,"t":2.8,"v":28},{"k":27,"t":3,"v":40},
{"k":28,"t":0,"v":3},{"k":28,"t":0.2,"v":6},{"k":28,"t":0.4,"v":9},{"k":28,"t":0.6,"v":14},{"k":28,"t":0.8,"v":24},{"k":28,"t":1,"v":20},{"k":28,"t":1.2,"v":36},{"k":28,"t":1.4,"v":32},{"k":28,"t":1.6,"v":46},{"k":28,"t":1.8,"v":42},{"k":28,"t":2,"v":55},{"k":28,"t":2.2,"v":48},{"k":28,"t":2.4,"v":42},{"k":28,"t":2.6,"v":55},{"k":28,"t":2.8,"v":60},{"k":28,"t":3,"v":50},
{"k":29,"t":0,"v":5},{"k":29,"t":0.2,"v":9},{"k":29,"t":0.4,"v":13},{"k":29,"t":0.6,"v":10},{"k":29,"t":0.8,"v":20},{"k":29,"t":1,"v":30},{"k":29,"t":1.2,"v":26},{"k":29,"t":1.4,"v":44},{"k":29,"t":1.6,"v":60},{"k":29,"t":1.8,"v":75},{"k":29,"t":2,"v":70},{"k":29,"t":2.2,"v":88},{"k":29,"t":2.4,"v":100},{"k":29,"t":2.6,"v":95},{"k":29,"t":2.8,"v":85},{"k":29,"t":3,"v":90},
{"k":30,"t":0,"v":2},{"k":30,"t":0.2,"v":4},{"k":30,"t":0.4,"v":8},{"k":30,"t":0.6,"v":11},{"k":30,"t":0.8,"v":9},{"k":30,"t":1,"v":15},{"k":30,"t":1.2,"v":12},{"k":30,"t":1.4,"v":18},{"k":30,"t":1.6,"v":25},{"k":30,"t":1.8,"v":35},{"k":30,"t":2,"v":32},{"k":30,"t":2.2,"v":30},{"k":30,"t":2.4,"v":42},{"k":30,"t":2.6,"v":36},{"k":30,"t":2.8,"v":50},{"k":30,"t":3,"v":46}
],
"bB":[
{"k":1,"t":0,"v":5},{"k":1,"t":0.15,"v":8},{"k":1,"t":0.3,"v":6},{"k":1,"t":0.45,"v":4},{"k":1,"t":0.6,"v":9},{"k":1,"t":0.75,"v":7},{"k":1,"t":0.9,"v":12},{"k":1,"t":1.05,"v":10},{"k":1,"t":1.2,"v":14},{"k":1,"t":1.35,"v":11},
{"k":2,"t":0,"v":12},{"k":2,"t":0.15,"v":9},{"k":2,"t":0.3,"v":7},{"k":2,"t":0.45,"v":5},{"k":2,"t":0.6,"v":8},{"k":2,"t":0.75,"v":6},{"k":2,"t":0.9,"v":10},
{"k":3,"t":0,"v":3},{"k":3,"t":0.15,"v":6},{"k":3,"t":0.3,"v":4},{"k":3,"t":0.45,"v":7},{"k":3,"t":0.6,"v":5},{"k":3,"t":0.75,"v":9},{"k":3,"t":0.9,"v":8},{"k":3,"t":1.05,"v":11},{"k":3,"t":1.2,"v":13},{"k":3,"t":1.35,"v":10},{"k":3,"t":1.5,"v":12},{"k":3,"t":1.65,"v":14},{"k":3,"t":1.8,"v":9},{"k":3,"t":1.95,"v":10},
{"k":4,"t":0,"v":8},{"k":4,"t":0.15,"v":11},{"k":4,"t":0.3,"v":5},{"k":4,"t":0.45,"v":9},{"k":4,"t":0.6,"v":6},{"k":4,"t":0.75,"v":12},{"k":4,"t":0.9,"v":19},{"k":4,"t":1.05,"v":15},{"k":4,"t":1.2,"v":11},
{"k":5,"t":0,"v":2},{"k":5,"t":0.15,"v":4},{"k":5,"t":0.3,"v":3},{"k":5,"t":0.45,"v":6},{"k":5,"t":0.6,"v":5},{"k":5,"t":0.75,"v":8},{"k":5,"t":0.9,"v":7},{"k":5,"t":1.05,"v":10},{"k":5,"t":1.2,"v":9},{"k":5,"t":1.35,"v":12},{"k":5,"t":1.5,"v":10},{"k":5,"t":1.65,"v":15},{"k":5,"t":1.8,"v":13},{"k":5,"t":1.95,"v":6},
{"k":6,"t":0,"v":6},{"k":6,"t":0.15,"v":3},{"k":6,"t":0.3,"v":8},{"k":6,"t":0.45,"v":5},{"k":6,"t":0.6,"v":10},{"k":6,"t":0.75,"v":7},{"k":6,"t":0.9,"v":13},{"k":6,"t":1.05,"v":9},{"k":6,"t":1.2,"v":17},{"k":6,"t":1.35,"v":11},{"k":6,"t":1.5,"v":13},
{"k":7,"t":0,"v":10},{"k":7,"t":0.15,"v":7},{"k":7,"t":0.3,"v":9},{"k":7,"t":0.45,"v":4},{"k":7,"t":0.6,"v":7},{"k":7,"t":0.75,"v":5},{"k":7,"t":0.9,"v":8},{"k":7,"t":1.05,"v":6},
{"k":8,"t":0,"v":4},{"k":8,"t":0.15,"v":2},{"k":8,"t":0.3,"v":6},{"k":8,"t":0.45,"v":3},{"k":8,"t":0.6,"v":8},{"k":8,"t":0.75,"v":11},{"k":8,"t":0.9,"v":9},{"k":8,"t":1.05,"v":12},{"k":8,"t":1.2,"v":10},{"k":8,"t":1.35,"v":14},{"k":8,"t":1.5,"v":12},{"k":8,"t":1.65,"v":16},{"k":8,"t":1.8,"v":11},
{"k":9,"t":0,"v":7},{"k":9,"t":0.15,"v":9},{"k":9,"t":0.3,"v":6},{"k":9,"t":0.45,"v":8},{"k":9,"t":0.6,"v":5},{"k":9,"t":0.75,"v":10},{"k":9,"t":0.9,"v":14},{"k":9,"t":1.05,"v":12},{"k":9,"t":1.2,"v":9},{"k":9,"t":1.35,"v":13},{"k":9,"t":1.5,"v":4},
{"k":10,"t":0,"v":1},{"k":10,"t":0.15,"v":3},{"k":10,"t":0.3,"v":5},{"k":10,"t":0.45,"v":4},{"k":10,"t":0.6,"v":6},{"k":10,"t":0.75,"v":9},{"k":10,"t":0.9,"v":7},{"k":10,"t":1.05,"v":10},{"k":10,"t":1.2,"v":8},
{"k":11,"t":0,"v":9},{"k":11,"t":0.15,"v":6},{"k":11,"t":0.3,"v":11},{"k":11,"t":0.45,"v":8},{"k":11,"t":0.6,"v":4},{"k":11,"t":0.75,"v":7},{"k":11,"t":0.9,"v":10},{"k":11,"t":1.05,"v":8},{"k":11,"t":1.2,"v":12},{"k":11,"t":1.35,"v":15},{"k":11,"t":1.5,"v":11},{"k":11,"t":1.65,"v":9},
{"k":12,"t":0,"v":3},{"k":12,"t":0.15,"v":5},{"k":12,"t":0.3,"v":8},{"k":12,"t":0.45,"v":6},{"k":12,"t":0.6,"v":9},{"k":12,"t":0.75,"v":7},{"k":12,"t":0.9,"v":11},{"k":12,"t":1.05,"v":16},{"k":12,"t":1.2,"v":10},{"k":12,"t":1.35,"v":13},{"k":12,"t":1.5,"v":9},
{"k":13,"t":0,"v":5},{"k":13,"t":0.15,"v":4},{"k":13,"t":0.3,"v":7},{"k":13,"t":0.45,"v":6},{"k":13,"t":0.6,"v":10},{"k":13,"t":0.75,"v":8},{"k":13,"t":0.9,"v":12},{"k":13,"t":1.05,"v":10},{"k":13,"t":1.2,"v":14},{"k":13,"t":1.35,"v":12},{"k":13,"t":1.5,"v":15},
{"k":14,"t":0,"v":2},{"k":14,"t":0.15,"v":6},{"k":14,"t":0.3,"v":4},{"k":14,"t":0.45,"v":8},{"k":14,"t":0.6,"v":3},{"k":14,"t":0.75,"v":6},{"k":14,"t":0.9,"v":5},{"k":14,"t":1.05,"v":9},
{"k":15,"t":0,"v":6},{"k":15,"t":0.15,"v":8},{"k":15,"t":0.3,"v":10},{"k":15,"t":0.45,"v":7},{"k":15,"t":0.6,"v":12},{"k":15,"t":0.75,"v":9},{"k":15,"t":0.9,"v":11},{"k":15,"t":1.05,"v":13},{"k":15,"t":1.2,"v":10},{"k":15,"t":1.35,"v":12},{"k":15,"t":1.5,"v":8},{"k":15,"t":1.65,"v":11},{"k":15,"t":1.8,"v":7},
{"k":16,"t":0,"v":4},{"k":16,"t":0.15,"v":7},{"k":16,"t":0.3,"v":3},{"k":16,"t":0.45,"v":5},{"k":16,"t":0.6,"v":8},{"k":16,"t":0.75,"v":12},{"k":16,"t":0.9,"v":9},{"k":16,"t":1.05,"v":15},{"k":16,"t":1.2,"v":11},{"k":16,"t":1.35,"v":14},
{"k":17,"t":0,"v":8},{"k":17,"t":0.15,"v":5},{"k":17,"t":0.3,"v":7},{"k":17,"t":0.45,"v":9},{"k":17,"t":0.6,"v":6},{"k":17,"t":0.75,"v":11},{"k":17,"t":0.9,"v":8},{"k":17,"t":1.05,"v":10},
{"k":18,"t":0,"v":3},{"k":18,"t":0.15,"v":2},{"k":18,"t":0.3,"v":4},{"k":18,"t":0.45,"v":6},{"k":18,"t":0.6,"v":5},{"k":18,"t":0.75,"v":7},{"k":18,"t":0.9,"v":9},{"k":18,"t":1.05,"v":8},{"k":18,"t":1.2,"v":11},{"k":18,"t":1.35,"v":10},{"k":18,"t":1.5,"v":12},{"k":18,"t":1.65,"v":9},{"k":18,"t":1.8,"v":11},{"k":18,"t":1.95,"v":10},
{"k":19,"t":0,"v":11},{"k":19,"t":0.15,"v":8},{"k":19,"t":0.3,"v":12},{"k":19,"t":0.45,"v":9},{"k":19,"t":0.6,"v":7},{"k":19,"t":0.75,"v":10},{"k":19,"t":0.9,"v":14},{"k":19,"t":1.05,"v":11},{"k":19,"t":1.2,"v":9},
{"k":20,"t":0,"v":4},{"k":20,"t":0.15,"v":6},{"k":20,"t":0.3,"v":5},{"k":20,"t":0.45,"v":9},{"k":20,"t":0.6,"v":7},{"k":20,"t":0.75,"v":6},{"k":20,"t":0.9,"v":10},{"k":20,"t":1.05,"v":8}
],
"dA":[
{"c":"grey","v":0,"d":0.012},{"c":"grey","v":5,"d":0.015},{"c":"grey","v":10,"d":0.02},{"c":"grey","v":20,"d":0.025},{"c":"grey","v":30,"d":0.03},{"c":"grey","v":40,"d":0.035},{"c":"grey","v":50,"d":0.04},{"c":"grey","v":60,"d":0.045},{"c":"grey","v":70,"d":0.045},{"c":"grey","v":80,"d":0.04},{"c":"grey","v":90,"d":0.035},{"c":"grey","v":100,"d":0.03},{"c":"grey","v":110,"d":0.028},{"c":"grey","v":120,"d":0.025},{"c":"grey","v":130,"d":0.022},
{"c":"black","v":0.3,"d":0.05},{"c":"black","v":1,"d":0.3},{"c":"black","v":1.6,"d":0.6},{"c":"black","v":2.3,"d":0.95},{"c":"black","v":2.8,"d":1},{"c":"black","v":3.3,"d":0.93},{"c":"black","v":4.3,"d":0.66},{"c":"black","v":6.2,"d":0.39},{"c":"black","v":8.5,"d":0.18},{"c":"black","v":10.4,"d":0.09},{"c":"black","v":13,"d":0.04},{"c":"black","v":16,"d":0.025},{"c":"black","v":20,"d":0.02},{"c":"black","v":30,"d":0.015},{"c":"black","v":50,"d":0.012},{"c":"black","v":80,"d":0.01},{"c":"black","v":130,"d":0.008},
{"c":"blue","v":0.5,"d":0.1},{"c":"blue","v":1,"d":0.16},{"c":"blue","v":1.9,"d":0.25},{"c":"blue","v":3.1,"d":0.36},{"c":"blue","v":4.2,"d":0.41},{"c":"blue","v":5.4,"d":0.42},{"c":"blue","v":6.5,"d":0.41},{"c":"blue","v":8,"d":0.36},{"c":"blue","v":10.4,"d":0.27},{"c":"blue","v":12,"d":0.21},{"c":"blue","v":13.8,"d":0.16},{"c":"blue","v":16,"d":0.1},{"c":"blue","v":18,"d":0.06},{"c":"blue","v":20,"d":0.04},{"c":"blue","v":22,"d":0.02},{"c":"blue","v":25,"d":0.008}
],
"dB":[
{"c":"grey","v":0,"d":0.01},{"c":"grey","v":2,"d":0.012},{"c":"grey","v":5,"d":0.025},{"c":"grey","v":10,"d":0.044},{"c":"grey","v":15,"d":0.065},{"c":"grey","v":22,"d":0.085},{"c":"grey","v":28,"d":0.095},{"c":"grey","v":32,"d":0.1},{"c":"grey","v":38,"d":0.098},{"c":"grey","v":43,"d":0.09},{"c":"grey","v":50,"d":0.075},{"c":"grey","v":55,"d":0.066},{"c":"grey","v":65,"d":0.045},{"c":"grey","v":81,"d":0.02},{"c":"grey","v":100,"d":0.015},{"c":"grey","v":130,"d":0.01},
{"c":"black","v":0.4,"d":0.08},{"c":"black","v":1.1,"d":0.48},{"c":"black","v":2,"d":0.85},{"c":"black","v":3.1,"d":1},{"c":"black","v":3.8,"d":0.98},{"c":"black","v":5.4,"d":0.78},{"c":"black","v":6.5,"d":0.64},{"c":"black","v":8,"d":0.48},{"c":"black","v":9.2,"d":0.3},{"c":"black","v":10.4,"d":0.15},{"c":"black","v":11.5,"d":0.08},{"c":"black","v":13,"d":0.04},{"c":"black","v":16.2,"d":0.01},{"c":"black","v":20,"d":0.005},{"c":"black","v":130,"d":0.003},
{"c":"blue","v":0.8,"d":0.12},{"c":"blue","v":1.8,"d":0.2},{"c":"blue","v":2.7,"d":0.3},{"c":"blue","v":3.6,"d":0.41},{"c":"blue","v":4.6,"d":0.52},{"c":"blue","v":5.5,"d":0.59},{"c":"blue","v":6.5,"d":0.615},{"c":"blue","v":7.3,"d":0.61},{"c":"blue","v":8.5,"d":0.58},{"c":"blue","v":10,"d":0.54},{"c":"blue","v":11,"d":0.46},{"c":"blue","v":11.9,"d":0.37},{"c":"blue","v":13,"d":0.25},{"c":"blue","v":14.2,"d":0.15},{"c":"blue","v":15.2,"d":0.1},{"c":"blue","v":16.2,"d":0.066},{"c":"blue","v":18,"d":0.03},{"c":"blue","v":20,"d":0.01},{"c":"blue","v":21,"d":0.003}
]
},
"spacing":0,
"bounds":"flush",
"hconcat":[
{"width":293,"height":337,
"layer":[
{"data":{"name":"gA"},"mark":{"type":"line","clip":true,"stroke":"#808080","strokeWidth":1,"opacity":0.35},
"encoding":{"x":{"field":"t","type":"quantitative","scale":{"domain":[0,3],"nice":false,"zero":false},"axis":{"orient":"bottom","title":null,"values":[0,0.2,0.4,0.6,0.8,1,1.2,1.4,1.6,1.8,2,2.2,2.4,2.6,2.8,3],"labelExpr":"datum.value % 1 === 0 ? '' + round(datum.value) : ''","tickSize":{"condition":{"test":"datum.value % 1 === 0","value":-8},"value":-4},"tickWidth":{"condition":{"test":"datum.value % 1 === 0","value":2},"value":1.5},"labelPadding":17,"labelOverlap":false}},
"y":{"field":"v","type":"quantitative","scale":{"domain":[0,130],"nice":false,"zero":false},"axis":{"orient":"left","title":null,"values":[0,5,10,15,20,25,30,35,40,45,50,55,60,65,70,75,80,85,90,95,100,105,110,115,120,125],"labelExpr":"datum.value % 25 === 0 ? datum.label : ''","tickSize":{"condition":{"test":"datum.value % 25 === 0","value":-8},"value":-4},"tickWidth":{"condition":{"test":"datum.value % 25 === 0","value":2},"value":1.5},"labelPadding":18}},
"detail":{"field":"k","type":"nominal"}}},
{"data":{"name":"bA"},"mark":{"type":"line","clip":true,"stroke":"#0000ff","strokeWidth":1.1,"opacity":0.8},
"encoding":{"x":{"field":"t","type":"quantitative","axis":{"orient":"top","title":null,"labels":false,"values":[0,0.2,0.4,0.6,0.8,1,1.2,1.4,1.6,1.8,2,2.2,2.4,2.6,2.8,3],"tickSize":{"condition":{"test":"datum.value % 1 === 0","value":-8},"value":-4},"tickWidth":{"condition":{"test":"datum.value % 1 === 0","value":2},"value":1.5}}},
"y":{"field":"v","type":"quantitative","axis":{"orient":"right","title":null,"labels":false,"values":[0,5,10,15,20,25,30,35,40,45,50,55,60,65,70,75,80,85,90,95,100,105,110,115,120,125],"tickSize":{"condition":{"test":"datum.value % 25 === 0","value":-8},"value":-4},"tickWidth":{"condition":{"test":"datum.value % 25 === 0","value":2},"value":1.5}}},
"detail":{"field":"k","type":"nominal"}}},
{"data":{"values":[{}]},"mark":{"type":"text","text":"Subid_467415","align":"left","baseline":"alphabetic","font":"DejaVu Serif","fontSize":17,"color":"black"},"encoding":{"x":{"datum":0.225,"type":"quantitative","axis":null},"y":{"datum":116,"type":"quantitative","axis":null}}},
{"data":{"values":[{}]},"mark":{"type":"text","text":"α","angle":270,"align":"left","baseline":"alphabetic","font":"DejaVu Serif","fontStyle":"italic","fontSize":21,"color":"black"},"encoding":{"x":{"datum":-0.694,"type":"quantitative","axis":null},"y":{"datum":45.4,"type":"quantitative","axis":null}}},
{"data":{"values":[{}]},"mark":{"type":"text","text":"star","angle":270,"align":"left","baseline":"alphabetic","font":"DejaVu Serif","fontSize":14,"color":"black"},"encoding":{"x":{"datum":-0.827,"type":"quantitative","axis":null},"y":{"datum":50.8,"type":"quantitative","axis":null}}},
{"data":{"values":[{}]},"mark":{"type":"text","text":"gas","angle":270,"align":"left","baseline":"alphabetic","font":"DejaVu Serif","fontSize":14,"color":"black"},"encoding":{"x":{"datum":-0.653,"type":"quantitative","axis":null},"y":{"datum":50.8,"type":"quantitative","axis":null}}},
{"data":{"values":[{}]},"mark":{"type":"text","text":"(deg)","angle":270,"align":"left","baseline":"alphabetic","font":"DejaVu Serif","fontSize":20,"color":"black"},"encoding":{"x":{"datum":-0.694,"type":"quantitative","axis":null},"y":{"datum":61.9,"type":"quantitative","axis":null}}},
{"data":{"values":[{}]},"mark":{"type":"text","text":"t","align":"left","baseline":"alphabetic","font":"DejaVu Serif","fontStyle":"italic","fontSize":20,"color":"black"},"encoding":{"x":{"datum":0.786,"type":"quantitative","axis":null},"y":{"datum":-21.5,"type":"quantitative","axis":null}}},
{"data":{"values":[{}]},"mark":{"type":"text","text":"lookback","align":"left","baseline":"alphabetic","font":"DejaVu Serif","fontSize":15,"color":"black"},"encoding":{"x":{"datum":0.867,"type":"quantitative","axis":null},"y":{"datum":-23.5,"type":"quantitative","axis":null}}},
{"data":{"values":[{}]},"mark":{"type":"text","text":"(Gyr)","align":"left","baseline":"alphabetic","font":"DejaVu Serif","fontSize":20,"color":"black"},"encoding":{"x":{"datum":1.571,"type":"quantitative","axis":null},"y":{"datum":-21.5,"type":"quantitative","axis":null}}}
],
"resolve":{"axis":{"x":"independent","y":"independent"}}},
{"width":92,"height":337,
"layer":[
{"data":{"name":"dA"},"mark":{"type":"line","strokeWidth":1.5,"clip":true},
"encoding":{"x":{"field":"d","type":"quantitative","scale":{"domain":[0,1],"nice":false,"zero":false},"axis":null},"y":{"field":"v","type":"quantitative","scale":{"domain":[0,130],"nice":false,"zero":false},"axis":null},"color":{"field":"c","type":"nominal","scale":{"domain":["grey","black","blue"],"range":["#888888","#000000","#0000ff"]},"legend":null},"order":{"field":"v","type":"quantitative"}}}
]},
{"width":109,"height":337,"view":{"stroke":null},"data":{"values":[{}]},"mark":{"type":"point","opacity":0},"encoding":{}},
{"width":293,"height":337,
"layer":[
{"data":{"name":"gB"},"mark":{"type":"line","clip":true,"stroke":"#808080","strokeWidth":1,"opacity":0.35},
"encoding":{"x":{"field":"t","type":"quantitative","scale":{"domain":[0,3],"nice":false,"zero":false},"axis":{"orient":"bottom","title":null,"values":[0,0.2,0.4,0.6,0.8,1,1.2,1.4,1.6,1.8,2,2.2,2.4,2.6,2.8,3],"labelExpr":"datum.value % 1 === 0 ? '' + round(datum.value) : ''","tickSize":{"condition":{"test":"datum.value % 1 === 0","value":-8},"value":-4},"tickWidth":{"condition":{"test":"datum.value % 1 === 0","value":2},"value":1.5},"labelPadding":17,"labelOverlap":false}},
"y":{"field":"v","type":"quantitative","scale":{"domain":[0,130],"nice":false,"zero":false},"axis":{"orient":"left","title":null,"values":[0,5,10,15,20,25,30,35,40,45,50,55,60,65,70,75,80,85,90,95,100,105,110,115,120,125],"labelExpr":"datum.value % 25 === 0 ? datum.label : ''","tickSize":{"condition":{"test":"datum.value % 25 === 0","value":-8},"value":-4},"tickWidth":{"condition":{"test":"datum.value % 25 === 0","value":2},"value":1.5},"labelPadding":18}},
"detail":{"field":"k","type":"nominal"}}},
{"data":{"name":"bB"},"mark":{"type":"line","clip":true,"stroke":"#0000ff","strokeWidth":1.1,"opacity":0.8},
"encoding":{"x":{"field":"t","type":"quantitative","axis":{"orient":"top","title":null,"labels":false,"values":[0,0.2,0.4,0.6,0.8,1,1.2,1.4,1.6,1.8,2,2.2,2.4,2.6,2.8,3],"tickSize":{"condition":{"test":"datum.value % 1 === 0","value":-8},"value":-4},"tickWidth":{"condition":{"test":"datum.value % 1 === 0","value":2},"value":1.5}}},
"y":{"field":"v","type":"quantitative","axis":{"orient":"right","title":null,"labels":false,"values":[0,5,10,15,20,25,30,35,40,45,50,55,60,65,70,75,80,85,90,95,100,105,110,115,120,125],"tickSize":{"condition":{"test":"datum.value % 25 === 0","value":-8},"value":-4},"tickWidth":{"condition":{"test":"datum.value % 25 === 0","value":2},"value":1.5}}},
"detail":{"field":"k","type":"nominal"}}},
{"data":{"values":[{}]},"mark":{"type":"text","text":"Subid_502995","align":"left","baseline":"alphabetic","font":"DejaVu Serif","fontSize":17,"color":"black"},"encoding":{"x":{"datum":0.225,"type":"quantitative","axis":null},"y":{"datum":116,"type":"quantitative","axis":null}}},
{"data":{"values":[{}]},"mark":{"type":"text","text":"α","angle":270,"align":"left","baseline":"alphabetic","font":"DejaVu Serif","fontStyle":"italic","fontSize":21,"color":"black"},"encoding":{"x":{"datum":-0.694,"type":"quantitative","axis":null},"y":{"datum":45.4,"type":"quantitative","axis":null}}},
{"data":{"values":[{}]},"mark":{"type":"text","text":"star","angle":270,"align":"left","baseline":"alphabetic","font":"DejaVu Serif","fontSize":14,"color":"black"},"encoding":{"x":{"datum":-0.827,"type":"quantitative","axis":null},"y":{"datum":50.8,"type":"quantitative","axis":null}}},
{"data":{"values":[{}]},"mark":{"type":"text","text":"gas","angle":270,"align":"left","baseline":"alphabetic","font":"DejaVu Serif","fontSize":14,"color":"black"},"encoding":{"x":{"datum":-0.653,"type":"quantitative","axis":null},"y":{"datum":50.8,"type":"quantitative","axis":null}}},
{"data":{"values":[{}]},"mark":{"type":"text","text":"(deg)","angle":270,"align":"left","baseline":"alphabetic","font":"DejaVu Serif","fontSize":20,"color":"black"},"encoding":{"x":{"datum":-0.694,"type":"quantitative","axis":null},"y":{"datum":61.9,"type":"quantitative","axis":null}}},
{"data":{"values":[{}]},"mark":{"type":"text","text":"t","align":"left","baseline":"alphabetic","font":"DejaVu Serif","fontStyle":"italic","fontSize":20,"color":"black"},"encoding":{"x":{"datum":0.786,"type":"quantitative","axis":null},"y":{"datum":-21.5,"type":"quantitative","axis":null}}},
{"data":{"values":[{}]},"mark":{"type":"text","text":"lookback","align":"left","baseline":"alphabetic","font":"DejaVu Serif","fontSize":15,"color":"black"},"encoding":{"x":{"datum":0.867,"type":"quantitative","axis":null},"y":{"datum":-23.5,"type":"quantitative","axis":null}}},
{"data":{"values":[{}]},"mark":{"type":"text","text":"(Gyr)","align":"left","baseline":"alphabetic","font":"DejaVu Serif","fontSize":20,"color":"black"},"encoding":{"x":{"datum":1.571,"type":"quantitative","axis":null},"y":{"datum":-21.5,"type":"quantitative","axis":null}}}
],
"resolve":{"axis":{"x":"independent","y":"independent"}}},
{"width":92,"height":337,
"layer":[
{"data":{"name":"dB"},"mark":{"type":"line","strokeWidth":1.5,"clip":true},
"encoding":{"x":{"field":"d","type":"quantitative","scale":{"domain":[0,1],"nice":false,"zero":false},"axis":null},"y":{"field":"v","type":"quantitative","scale":{"domain":[0,130],"nice":false,"zero":false},"axis":null},"color":{"field":"c","type":"nominal","scale":{"domain":["grey","black","blue"],"range":["#888888","#000000","#0000ff"]},"legend":null},"order":{"field":"v","type":"quantitative"}}},
{"data":{"values":[{}]},"mark":{"type":"text","text":"9","align":"left","baseline":"alphabetic","font":"Liberation Serif","fontSize":15,"color":"black"},"encoding":{"x":{"datum":1.143,"type":"quantitative","axis":null},"y":{"datum":139.8,"type":"quantitative","axis":null}}}
]}
]
}
